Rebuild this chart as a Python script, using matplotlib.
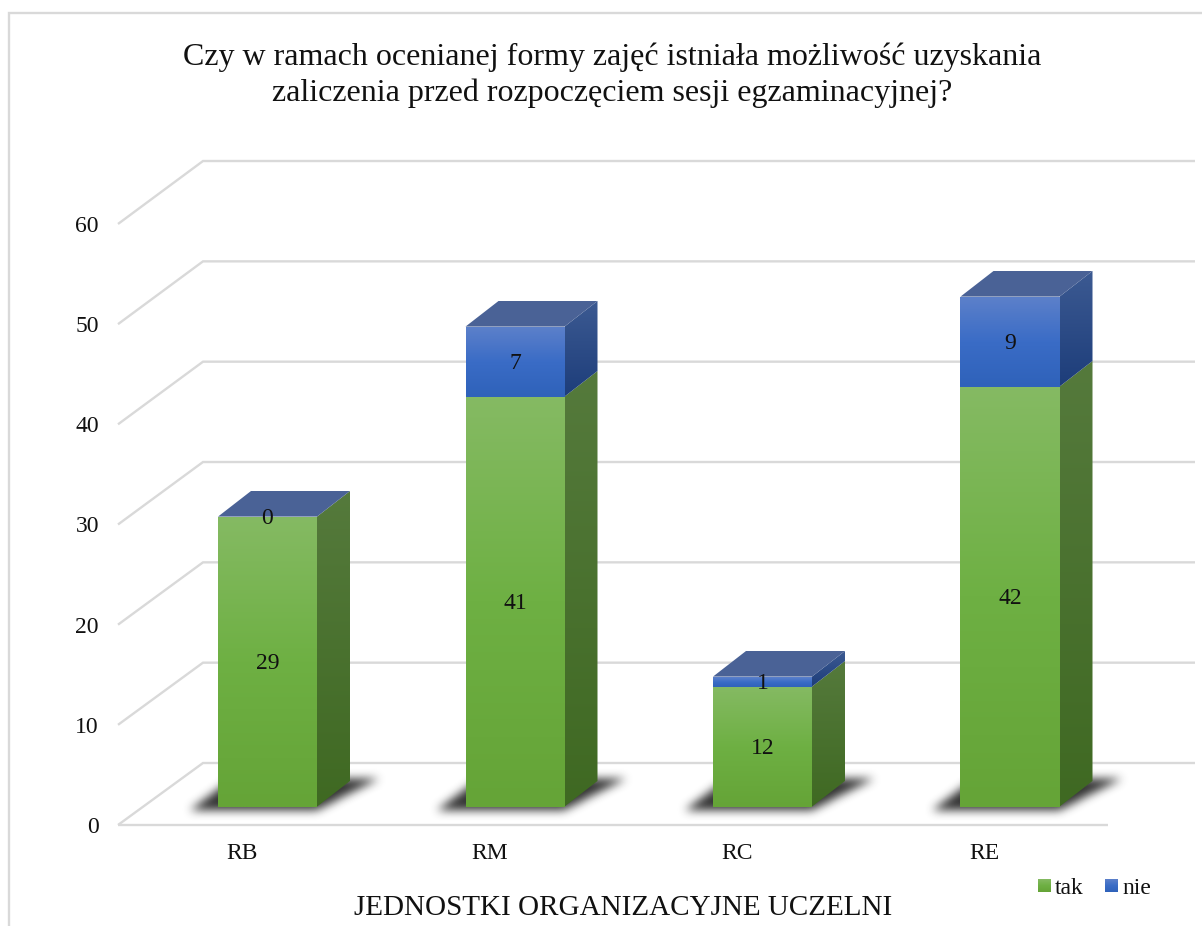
import numpy as np
import matplotlib
matplotlib.use("Agg")
import matplotlib.pyplot as plt
from matplotlib.colors import LinearSegmentedColormap
from matplotlib.lines import Line2D
from matplotlib.patches import Polygon
from matplotlib.path import Path

plt.rcParams['font.family'] = ['Liberation Serif', 'DejaVu Serif']

categories = ["RB", "RM", "RC", "RE"]
tak = [29, 41, 12, 42]
nie = [0, 7, 1, 9]
series_names = ["tak", "nie"]
ticks = [0, 10, 20, 30, 40, 50, 60]
title = "Czy w ramach ocenianej formy zajęć istniała możliwość uzyskania\nzaliczenia przed rozpoczęciem sesji egzaminacyjnej?"
xlabel = "JEDNOSTKI ORGANIZACYJNE UCZELNI"

W, H = 1202, 926
fig = plt.figure(figsize=(W / 100, H / 100), dpi=100, facecolor="white")
ax = fig.add_axes([0, 0, 1, 1])
# one category = 247.5 px, one value unit = 10 px
UX, UY = 247.5, 10.0
X0, Y0 = 267.5, 806.6
ax.set_xlim(-X0 / UX, (W - X0) / UX)
ax.set_ylim((Y0 - H) / UY, Y0 / UY)
ax.axis("off")
ax.set_autoscale_on(False)

HW = 49.5 / UX
DX = 33 / UX
DY = 25.6 / UY
GRID = "#d9d9d9"


def dx(p):
    return p / UX


def dy(p):
    return p / UY


def grad(verts, z, cols):
    verts = np.asarray(verts, float)
    x0, x1 = verts[:, 0].min(), verts[:, 0].max()
    y0, y1 = verts[:, 1].min(), verts[:, 1].max()
    cm = LinearSegmentedColormap.from_list("g", cols)
    im = ax.imshow(np.linspace(0, 1, 128)[:, None], extent=(x0, x1, y0, y1), origin="upper",
                   cmap=cm, aspect="auto", interpolation="bilinear", zorder=z, vmin=0, vmax=1)
    poly = Polygon(verts, closed=True, transform=ax.transData, fc="none", ec="none")
    ax.add_patch(poly)
    im.set_clip_path(poly)


def box_blur(a, r, n=3):
    k = np.ones(2 * r + 1) / (2 * r + 1)
    for _ in range(n):
        a = np.apply_along_axis(lambda m: np.convolve(m, k, mode="same"), 0, a)
        a = np.apply_along_axis(lambda m: np.convolve(m, k, mode="same"), 1, a)
    return a


def shadow(c):
    # soft floor shadow around the foot of a bar
    px = np.arange(-120, 160)
    py = np.arange(-70, 40)
    gx, gy = np.meshgrid(px, py)
    shape = Path([(-78, 3), (49.5, 3), (112, -29), (-35, -29)])
    mask = shape.contains_points(np.c_[gx.ravel(), gy.ravel()]).reshape(gx.shape).astype(float)
    a = box_blur(mask, 4)
    rgba = np.zeros(a.shape + (4,))
    rgba[..., :3] = 0.16
    rgba[..., 3] = np.clip(a * 0.95, 0, 1)
    ext = (c + dx(px[0]), c + dx(px[-1]), dy(-py[-1]), dy(-py[0]))
    ax.imshow(rgba, extent=ext, origin="upper", aspect="auto", interpolation="bilinear", zorder=2)


# walls and gridlines
for t in ticks:
    front_y = (Y0 - 825) / UY + t * 1.0017
    back_y = (Y0 - 763) / UY + t * 1.0033
    lx, bx, rx = dx(118 - X0), dx(203 - X0), dx(1195 - X0)
    ax.plot([lx, bx, rx], [front_y, back_y, back_y], color=GRID, lw=1.7, zorder=1,
            solid_joinstyle="miter", solid_capstyle="butt")
    ax.text(dx(99 - X0), front_y - dy(2.5), str(t), ha="right", va="center", fontsize=17, color="#111111")
ax.plot([dx(118 - X0), dx(1108 - X0)], [(Y0 - 825) / UY] * 2, color=GRID, lw=1.7, zorder=1,
        solid_capstyle="butt")

G_FRONT = ["#85ba63", "#6eb043", "#65a437"]
G_SIDE = ["#557a3c", "#3f6922"]
B_FRONT = ["#5c80ca", "#3a6cc6", "#2f62ba"]
B_SIDE = ["#3c5a92", "#1d3d7a"]
B_TOP = "#4a6296"

for i, (name, a, b) in enumerate(zip(categories, tak, nie)):
    L, R = i - HW, i + HW
    shadow(i)
    # green segment
    grad([(L, 0), (R, 0), (R, a), (L, a)], 4, G_FRONT)
    grad([(R, 0), (R + DX, DY), (R + DX, a + DY), (R, a)], 4, G_SIDE)
    # blue segment
    top = a + b
    if b > 0:
        grad([(L, a), (R, a), (R, top), (L, top)], 5, B_FRONT)
        grad([(R, a), (R + DX, a + DY), (R + DX, top + DY), (R, top)], 5, B_SIDE)
    ax.add_patch(Polygon([(L, top), (R, top), (R + DX, top + DY), (L + DX, top + DY)],
                         closed=True, fc=B_TOP, ec="none", zorder=6))
    # labels
    ax.text(i, a / 2 - dy(2), str(a), ha="center", va="center", fontsize=17, color="#111111", zorder=8)
    ax.text(i, a + b / 2 - dy(2), str(b), ha="center", va="center", fontsize=17, color="#111111", zorder=8)
    ax.text(i + dx(-25.5), dy(-47), name, ha="center", va="center", fontsize=17, color="#111111")

# outer chart frame
fig.add_artist(Line2D([9 / W, 9 / W, 1], [0, 1 - 13 / H, 1 - 13 / H], color=GRID, lw=1.7,
                      solid_joinstyle="miter"))

fig.text(612 / W, 1 - 75 / H, title, ha="center", va="center", fontsize=23, color="#111111",
         linespacing=1.3)
fig.text(623 / W, 1 - 908 / H, xlabel, ha="center", va="center", fontsize=21, color="#111111")

# legend
for name, sq, cols in zip(series_names, [1038, 1105], [G_FRONT, B_FRONT]):
    s0, s1 = dx(sq - X0), dx(sq + 13 - X0)
    v0, v1 = (Y0 - 892) / UY, (Y0 - 879) / UY
    grad([(s0, v0), (s1, v0), (s1, v1), (s0, v1)], 4, cols)
    ax.text(dx(sq + 17 - X0), (Y0 - 889) / UY, name, ha="left", va="center", fontsize=17, color="#111111")

fig.savefig("out.png", dpi=100, facecolor="white")
